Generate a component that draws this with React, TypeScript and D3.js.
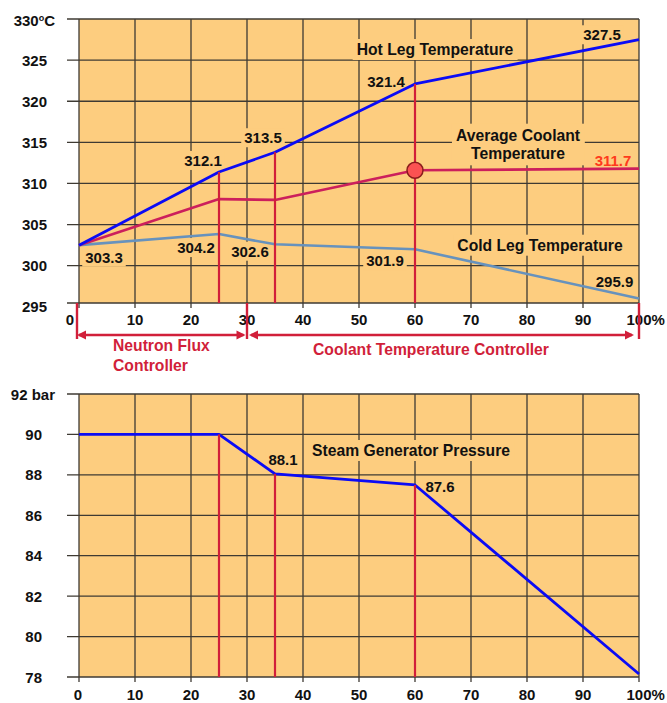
import React, { useEffect, useRef } from 'react';
import * as d3 from 'd3';

// ---- data ----
const loadPct = [0, 25, 35, 60, 100];
const hotLeg = [302.5, 311.4, 313.8, 322.1, 327.5];
const avgCoolant = [302.5, 308.1, 308.0, 311.6, 311.8];
const coldLeg = [302.5, 303.85, 302.6, 302.0, 296.0];
const sgPressure = [90.0, 90.0, 88.05, 87.5, 78.15];

const xTicks = [0, 10, 20, 30, 40, 50, 60, 70, 80, 90, 100];
const tempTicks = [295, 300, 305, 310, 315, 320, 325, 330];
const pressTicks = [78, 80, 82, 84, 86, 88, 90, 92];
const markerLoads = [25, 35, 60];
const controllerBounds = [0, 30, 100];

const hotLegLabels = ['312.1', '313.5', '321.4', '327.5'];
const coldLegLabels = ['303.3', '304.2', '302.6', '301.9', '295.9'];
const avgLabel = '311.7';
const pressureLabels = ['88.1', '87.6'];

export default function App() {
  const ref = useRef<SVGSVGElement>(null);

  useEffect(() => {
    const svg = d3.select(ref.current);
    svg.selectAll('*').remove();
    const FONT = '"Liberation Sans", Arial, Helvetica, sans-serif';
    const BG = '#fdcd7f';
    const GRID = '#3e3a33';
    const RED = '#d11f3a';
    const NUM = 15;
    const WORD = 15.7;

    const L = 79, R = 639;
    const x = d3.scaleLinear().domain([0, 100]).range([L, R]);

    const topT = 19, topB = 303;
    const yT = d3.scaleLinear().domain([300, 330]).range([265.7, 19]);
    const botT = 394, botB = 677;
    const yP = d3.scaleLinear().domain([78, 92]).range([677, 394]);

    const root = svg.append('g').attr('font-family', FONT).attr('font-weight', 'bold');

    function panel(yS: any, ticks: number[], pTop: number, pBot: number, yLabX: number, topLabel: (g: any, y: number) => void, xLabBase: number, zeroShift: number) {
      const g = root.append('g');
      g.append('rect').attr('x', L).attr('y', pTop).attr('width', R - L).attr('height', pBot - pTop).attr('fill', BG);
      const grid = g.append('g').attr('stroke', GRID).attr('stroke-width', 1.3);
      ticks.forEach((t, i) => {
        const yy = i === 0 ? pBot : yS(t);
        grid.append('line').attr('x1', 67).attr('x2', R).attr('y1', yy).attr('y2', yy);
      });
      xTicks.forEach((t) => {
        grid.append('line').attr('x1', x(t)).attr('x2', x(t)).attr('y1', pTop).attr('y2', pBot + 5);
      });
      const labs = g.append('g').attr('font-size', NUM).attr('fill', '#111');
      ticks.forEach((t, i) => {
        const yy = yS(t) + 5.5;
        if (i === ticks.length - 1) topLabel(labs, yy);
        else labs.append('text').attr('x', yLabX).attr('y', yy).attr('text-anchor', 'end').text(String(t));
      });
      xTicks.forEach((t) => {
        if (t === 100) {
          labs.append('text').attr('x', x(t) - 12.5).attr('y', xLabBase).attr('text-anchor', 'start').text('100%');
        } else {
          labs.append('text').attr('x', x(t) + (t === 0 ? zeroShift : 0)).attr('y', xLabBase).attr('text-anchor', 'middle').text(String(t));
        }
      });
      return g;
    }

    panel(yT, tempTicks, topT, topB, 47, (g: any, yy: number) => {
      const t = g.append('text').attr('x', 55).attr('y', yy + 1).attr('text-anchor', 'end');
      t.append('tspan').text('330');
      t.append('tspan').attr('font-size', 9).attr('dy', -5).text('o');
      t.append('tspan').attr('dy', 5).text('C');
    }, 325, -9);

    panel(yP, pressTicks, botT, botB, 42, (g: any, yy: number) => {
      g.append('text').attr('x', 55).attr('y', yy).attr('text-anchor', 'end').text('92 bar');
    }, 700, -1);

    const boxG = root.append('g');
    const lineG = root.append('g');
    const textG = root.append('g');

    function label(lines: string[], cx: number, base: number, opts: any = {}) {
      const size = opts.size || NUM;
      const lh = opts.lh || 18.6;
      const anchor = opts.anchor || 'middle';
      const t = textG.append('text').attr('font-size', size).attr('fill', opts.color || '#111').attr('text-anchor', anchor);
      lines.forEach((s, i) => t.append('tspan').attr('x', cx).attr('y', base + i * lh).text(s));
      if (opts.box !== false) {
        const bb = (t.node() as SVGTextElement).getBBox();
        const px = opts.px ?? 3, py = opts.py ?? 1;
        boxG.append('rect').attr('x', bb.x - px).attr('y', bb.y - py).attr('width', bb.width + 2 * px).attr('height', bb.height + 2 * py).attr('fill', BG);
      }
    }

    // ---- top chart lines ----
    const ptsOf = (vals: number[], yS: any) => loadPct.map((p, i) => [x(p), yS(vals[i])] as [number, number]);
    const lineGen = d3.line();
    const series = [
      { vals: coldLeg, color: '#6792bd', w: 2.6 },
      { vals: avgCoolant, color: '#cc1f5c', w: 2.6 },
      { vals: hotLeg, color: '#0b0bf5', w: 2.8 },
    ];
    series.forEach((s) => {
      lineG.append('path').attr('d', lineGen(ptsOf(s.vals, yT))).attr('fill', 'none').attr('stroke', s.color).attr('stroke-width', s.w).attr('stroke-linejoin', 'round');
    });
    lineG.append('path').attr('d', lineGen(ptsOf(sgPressure, yP))).attr('fill', 'none').attr('stroke', '#0b0bf5').attr('stroke-width', 2.8).attr('stroke-linejoin', 'round');

    // red marker verticals
    markerLoads.forEach((m) => {
      const i = loadPct.indexOf(m);
      lineG.append('line').attr('x1', x(m)).attr('x2', x(m)).attr('y1', yT(hotLeg[i])).attr('y2', topB).attr('stroke', RED).attr('stroke-width', 2.2);
      lineG.append('line').attr('x1', x(m)).attr('x2', x(m)).attr('y1', yP(sgPressure[i])).attr('y2', botB).attr('stroke', RED).attr('stroke-width', 2.2);
    });
    // avg coolant marker circle at 60%
    const i60 = loadPct.indexOf(60);
    lineG.append('circle').attr('cx', x(60)).attr('cy', yT(avgCoolant[i60])).attr('r', 8).attr('fill', '#fb5252').attr('stroke', '#8a1c1c').attr('stroke-width', 1.5);

    // controller bounds and arrows
    const arrowY = 335;
    controllerBounds.forEach((b) => {
      lineG.append('line').attr('x1', x(b) - (b === 0 ? 2 : 0)).attr('x2', x(b) - (b === 0 ? 2 : 0)).attr('y1', topB).attr('y2', 339).attr('stroke', RED).attr('stroke-width', 2.4);
    });
    function arrow(x1: number, x2: number) {
      const hl = 9, hw = 4.5;
      lineG.append('line').attr('x1', x1 + 2).attr('x2', x2 - 2).attr('y1', arrowY).attr('y2', arrowY).attr('stroke', RED).attr('stroke-width', 2.4);
      lineG.append('path').attr('d', `M${x1},${arrowY} L${x1 + hl},${arrowY - hw} L${x1 + hl},${arrowY + hw} Z`).attr('fill', RED);
      lineG.append('path').attr('d', `M${x2},${arrowY} L${x2 - hl},${arrowY - hw} L${x2 - hl},${arrowY + hw} Z`).attr('fill', RED);
    }
    arrow(x(0) - 2, x(30) - 1.5);
    arrow(x(30) + 2, x(100) - 5);

    label(['Neutron Flux', 'Controller'], 113, 351, { size: WORD, color: RED, anchor: 'start', box: false, lh: 19.5 });
    label(['Coolant Temperature Controller'], 431, 355, { size: WORD, color: RED, box: false });

    // series titles
    label(['Hot Leg Temperature'], 435, 55, { size: WORD, px: 4, py: 2 });
    label(['Average Coolant', 'Temperature'], 518, 140.7, { size: WORD, px: 4, py: 3 });
    label(['Cold Leg Temperature'], 540, 250.7, { size: WORD, px: 4, py: 2 });
    label(['Steam Generator Pressure'], 411, 456, { size: WORD, px: 4, py: 2 });

    // value labels (hot leg at 25, 35, 60, 100)
    const hotIdx = [1, 2, 3, 4];
    const hotOff = [[-16, -6], [-12, -9], [-29, 3], [-37, 0.7]];
    hotIdx.forEach((k, j) => {
      label([hotLegLabels[j]], x(loadPct[k]) + hotOff[j][0], yT(hotLeg[k]) + hotOff[j][1]);
    });
    const coldIdx = [0, 1, 2, 3, 4];
    const coldOff = [[25, 17.4], [-23, 19], [-25, 12.4], [-30, 17], [-24.5, -11.6]];
    coldIdx.forEach((k, j) => {
      label([coldLegLabels[j]], x(loadPct[k]) + coldOff[j][0], yT(coldLeg[k]) + coldOff[j][1]);
    });
    label([avgLabel], x(100) - 26, yT(avgCoolant[4]) - 3, { color: '#ff3b1c' });
    label([pressureLabels[0]], x(35) + 8, yP(sgPressure[2]) - 9.3);
    label([pressureLabels[1]], x(60) + 25, yP(sgPressure[3]) + 6.7);
  }, []);

  return <svg ref={ref} width={667} height={703} style={{ position: 'absolute', left: 0, top: 0, background: '#fff' }} />;
}
